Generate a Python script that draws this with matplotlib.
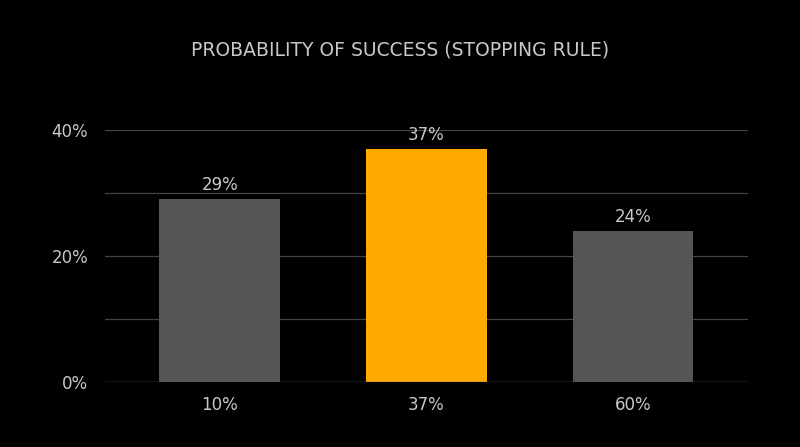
import matplotlib
matplotlib.use("Agg")
import matplotlib.pyplot as plt

categories = ["10%", "37%", "60%"]
values = [29, 37, 24]
colors = ["#555555", "#FFAA00", "#555555"]
yticks = [0, 20, 40]
ytick_labels = ["0%", "20%", "40%"]

fig = plt.figure(figsize=(8, 4.47), dpi=100, facecolor="black")
ax = fig.add_axes([0.131, 0.1454, 0.804, 0.5638], facecolor="black")
x = range(len(categories))
ax.bar(x, values, width=0.585, color=colors, zorder=3)
for i, v in zip(x, values):
    ax.text(i, v + 0.8, f"{v}%", ha="center", va="bottom", color="#c8c8c8", fontsize=12)
ax.set_xlim(-0.557, 2.557)
ax.set_ylim(0, 40)
for y in range(10, 41, 10):
    ax.axhline(y, color="#444444", lw=0.9, zorder=1)
ax.axhline(0, color="#666666", lw=1, zorder=4)
ax.set_yticks(yticks)
ax.set_yticklabels(ytick_labels)
ax.set_xticks(list(x))
ax.set_xticklabels(categories)
ax.tick_params(colors="#c8c8c8", labelsize=12, length=0, pad=10)
ax.tick_params(axis="y", pad=12)
for s in ax.spines.values():
    s.set_visible(False)
fig.text(0.5, 1 - 50 / 447, "PROBABILITY OF SUCCESS (STOPPING RULE)", ha="center", va="center",
         color="#c8c8c8", fontsize=13.5)
fig.savefig("out.png", facecolor="black")
